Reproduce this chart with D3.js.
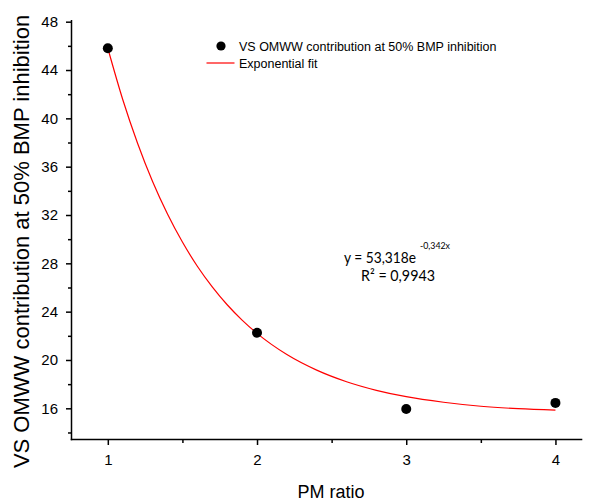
<!DOCTYPE html>
<html>
<head>
<meta charset="utf-8">
<title>VS OMWW contribution vs PM ratio</title>
<style>
	body { margin: 0; background: white; }
	svg text { font-family: "Liberation Sans", Arial, sans-serif; fill: black; }
	.axis path, .axis line { stroke: black; stroke-width: 1.5; }
	.axis text { font-size: 15px; }
	.eq { font-family: Lato, "Open Sans", sans-serif; }
</style>
</head>
<body>
<svg id="chart"></svg>
<script src="https://d3js.org/d3.v7.min.js"></script>
<script>
// measured points
var pmRatio = [1, 2, 3, 4];
var vsContribution = [45.8, 22.25, 15.95, 16.45];

// exponential fit curve
var fitX = [1.0, 1.1, 1.2, 1.3, 1.4, 1.5, 1.6, 1.7, 1.8, 1.9, 2.0, 2.2, 2.4, 2.6, 2.8, 3.0, 3.25, 3.5, 3.75, 4.0];
var fitY = [45.8, 41.56, 37.92, 34.77, 32.08, 29.76, 27.76, 26.05, 24.57, 23.3, 22.2, 20.45, 19.16, 18.2, 17.49, 16.96, 16.5, 16.17, 15.97, 15.85];

var xTicks = [1, 2, 3, 4];
var xMinor = [1.5, 2.5, 3.5];
var yTicks = [16, 20, 24, 28, 32, 36, 40, 44, 48];
var yMinor = [14, 18, 22, 26, 30, 34, 38, 42, 46];

var width = 590, height = 501;
var plotLeft = 72, plotRight = 582.3, plotTop = 20, plotBottom = 439;

var svg = d3.select("#chart")
	.attr("width", width)
	.attr("height", height);

var x = d3.scaleLinear().domain([0.76, 4.18]).range([plotLeft, plotRight]);
var y = d3.scaleLinear().domain([13.46, 48.14]).range([plotBottom, plotTop]);

// x axis
svg.append("g")
	.attr("class", "axis")
	.attr("transform", `translate(0,${plotBottom})`)
	.call(d3.axisBottom(x).tickValues(xTicks).tickSize(6).tickSizeOuter(0).tickPadding(9).tickFormat(d3.format("d")))
	.call(g => g.select(".domain").attr("d", `M${plotLeft - 1.25},0.5H${plotRight}`));

svg.append("g")
	.attr("class", "axis")
	.attr("transform", `translate(0,${plotBottom})`)
	.call(d3.axisBottom(x).tickValues(xMinor).tickSize(4).tickFormat(""))
	.call(g => g.select(".domain").remove());

// y axis
svg.append("g")
	.attr("class", "axis")
	.attr("transform", `translate(${plotLeft},0)`)
	.call(d3.axisLeft(y).tickValues(yTicks).tickSize(6).tickSizeOuter(0).tickPadding(8).tickFormat(d3.format("d")))
	.call(g => g.select(".domain").attr("d", `M-0.5,${plotTop}V${plotBottom + 1.25}`));

svg.append("g")
	.attr("class", "axis")
	.attr("transform", `translate(${plotLeft},0)`)
	.call(d3.axisLeft(y).tickValues(yMinor).tickSize(4).tickFormat(""))
	.call(g => g.select(".domain").remove());

// axis titles
svg.append("text")
	.attr("x", 331)
	.attr("y", 498)
	.attr("text-anchor", "middle")
	.style("font-size", "18px")
	.text("PM ratio");

svg.append("text")
	.attr("transform", "translate(29,241.5) rotate(-90)")
	.attr("text-anchor", "middle")
	.style("font-size", "22px")
	.text("VS OMWW contribution at 50% BMP inhibition");

// fit curve
var line = d3.line()
	.x((d, i) => x(fitX[i]))
	.y(d => y(d))
	.curve(d3.curveMonotoneX);

svg.append("path")
	.datum(fitY)
	.attr("fill", "none")
	.attr("stroke", "red")
	.attr("stroke-width", 1.2)
	.attr("d", line);

// points
svg.append("g")
	.selectAll("circle")
	.data(pmRatio)
	.enter().append("circle")
		.attr("cx", d => x(d))
		.attr("cy", (d, i) => y(vsContribution[i]))
		.attr("r", 5)
		.attr("fill", "black");

// legend
var legend = svg.append("g");
legend.append("circle").attr("cx", 221).attr("cy", 46).attr("r", 4.6).attr("fill", "black");
legend.append("text").attr("x", 239).attr("y", 50.8).style("font-size", "12.5px")
	.text("VS OMWW contribution at 50% BMP inhibition");
legend.append("line").attr("x1", 206.5).attr("x2", 234.5).attr("y1", 63).attr("y2", 63)
	.attr("stroke", "red").attr("stroke-width", 1.2);
legend.append("text").attr("x", 239).attr("y", 67.5).style("font-size", "12.5px")
	.text("Exponential fit");

// equation
svg.append("text").attr("class", "eq").attr("x", 344).attr("y", 263).style("font-size", "15px")
	.attr("textLength", 72).attr("lengthAdjust", "spacingAndGlyphs")
	.text("y = 53,318e");
svg.append("text").attr("class", "eq").attr("x", 420).attr("y", 249).style("font-size", "9.5px")
	.attr("textLength", 30).attr("lengthAdjust", "spacingAndGlyphs")
	.text("-0,342x");
svg.append("text").attr("class", "eq").attr("x", 361).attr("y", 281).style("font-size", "15px")
	.attr("textLength", 74).attr("lengthAdjust", "spacingAndGlyphs")
	.text("R² = 0,9943");
</script>
</body>
</html>
